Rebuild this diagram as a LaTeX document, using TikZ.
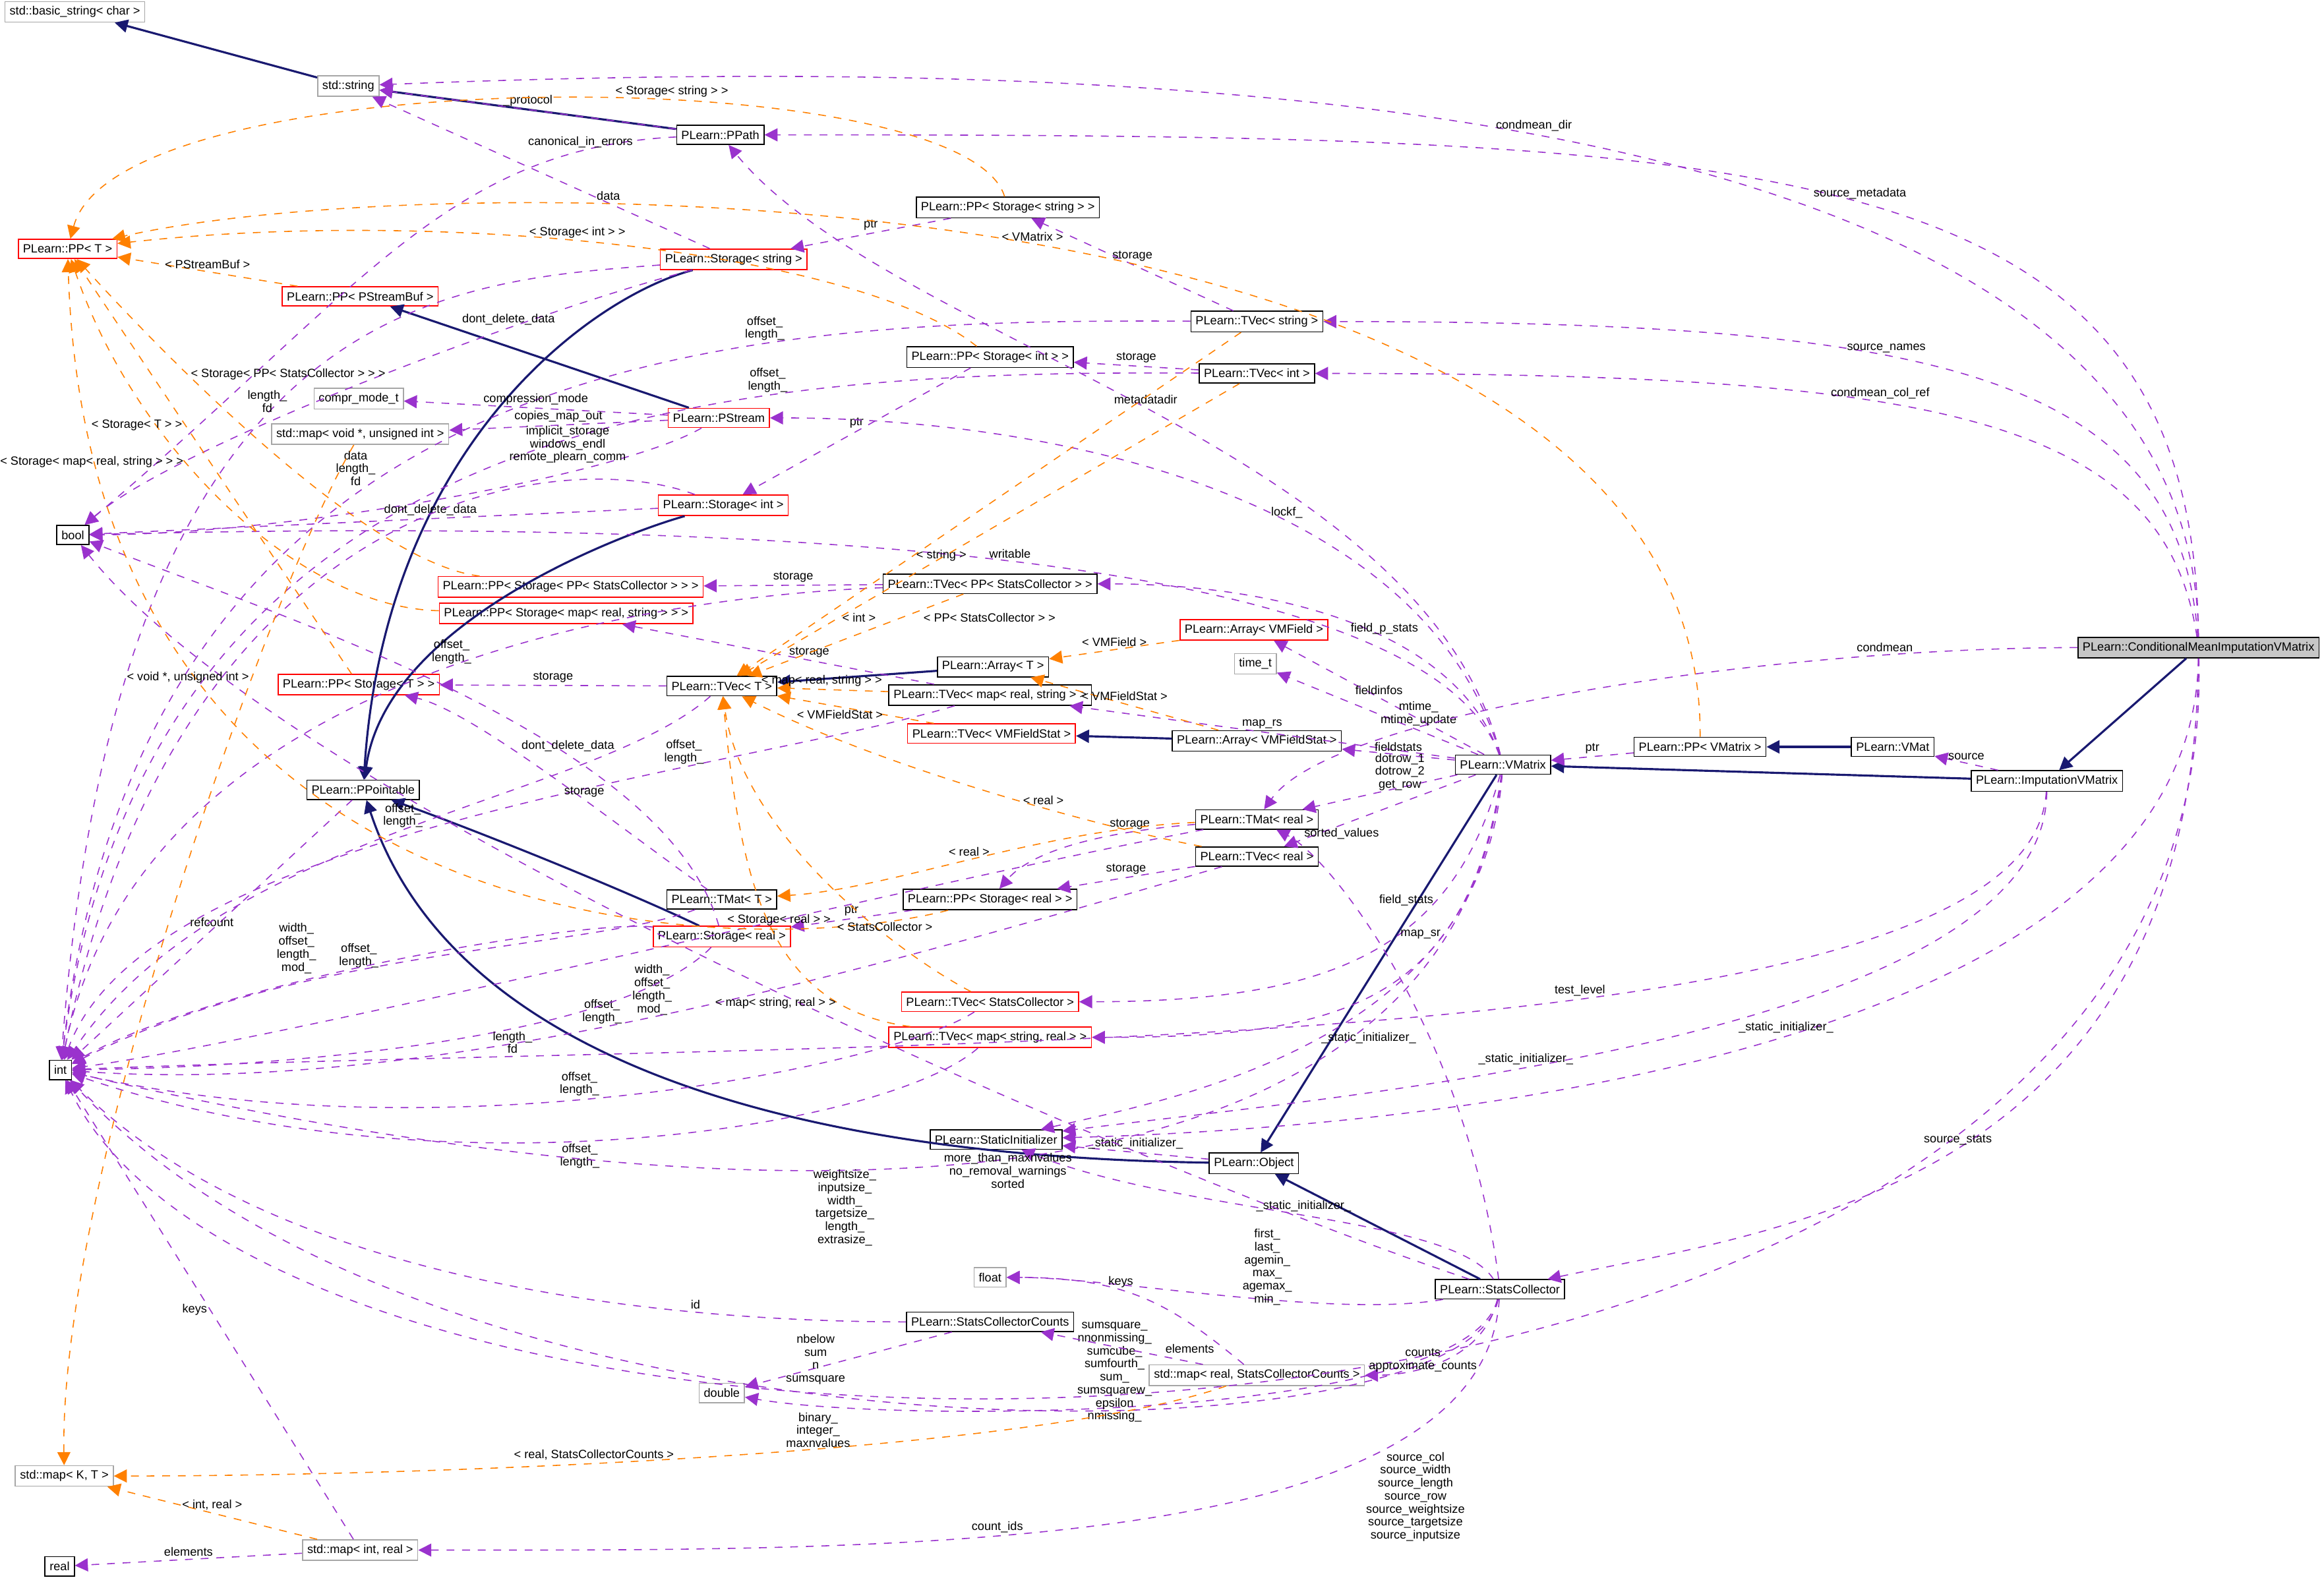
\documentclass[tikz,border=0pt]{standalone}
\usepackage{fontspec}
\setmainfont{Liberation Sans}
\usetikzlibrary{arrows.meta}
\tikzset{
  every node/.style={font=\fontsize{4.6}{5}\selectfont},
  cls/.style={draw=black, fill=white, inner sep=1.8pt, minimum height=0.26cm},
  redcls/.style={cls, draw=red},
  extcls/.style={cls, draw=gray!70},
  rootcls/.style={cls, fill=gray!45},
  inh/.style={draw={rgb,255:red,25;green,25;blue,112}, thick, -{Triangle[length=5pt,width=5pt]}},
  use/.style={draw={rgb,255:red,154;green,50;blue,205}, dashed, -{Triangle[length=5pt,width=5pt]}},
  tpl/.style={draw=orange, dashed, -{Triangle[length=5pt,width=5pt]}},
  lbl/.style={fill=none, inner sep=1pt, align=center}
}
\begin{document}
\begin{tikzpicture}[x=0.02cm, y=-0.02cm]
\useasboundingbox (0,0) rectangle (1568,1070);

% classes
\node[extcls, anchor=west] (basicstring) at (3,8) {std::basic\_string< char >};
\node[extcls] (stdstring) at (235,58) {std::string};
\node[cls] (ppath) at (486,91) {PLearn::PPath};
\node[redcls, anchor=west] (ppt) at (12,168) {PLearn::PP< T >};
\node[redcls] (ppstreambuf) at (243,200) {PLearn::PP< PStreamBuf >};
\node[redcls] (storagestring) at (495,175) {PLearn::Storage< string >};
\node[cls] (ppstoragestring) at (680,140) {PLearn::PP< Storage< string > >};
\node[cls] (tvecstring) at (848,217) {PLearn::TVec< string >};
\node[cls] (tvecint) at (848,252) {PLearn::TVec< int >};
\node[cls] (ppstorageint) at (668,241) {PLearn::PP< Storage< int > >};
\node[extcls] (comprmode) at (242,269) {compr\_mode\_t};
\node[redcls] (pstream) at (485,282) {PLearn::PStream};
\node[extcls] (mapvoid) at (243,293) {std::map< void *, unsigned int >};
\node[redcls] (storageint) at (488,341) {PLearn::Storage< int >};
\node[cls, anchor=west] (bool) at (38,361) {bool};
\node[redcls] (ppstorageppstats) at (385,396) {PLearn::PP< Storage< PP< StatsCollector > > >};
\node[redcls] (ppstoragemap) at (382,414) {PLearn::PP< Storage< map< real, string > > >};
\node[cls] (tvecppstats) at (668,394) {PLearn::TVec< PP< StatsCollector > >};
\node[redcls] (arrayvmfield) at (846,425) {PLearn::Array< VMField >};
\node[extcls] (timet) at (847,448) {time\_t};
\node[cls] (arrayt) at (670,450) {PLearn::Array< T >};
\node[cls] (tvect) at (487,463) {PLearn::TVec< T >};
\node[redcls] (ppstoraget) at (242,462) {PLearn::PP< Storage< T > >};
\node[cls] (tvecmap) at (668,469) {PLearn::TVec< map< real, string > >};
\node[redcls] (tvecvmfieldstat) at (669,495) {PLearn::TVec< VMFieldStat >};
\node[cls] (arrayvmfieldstat) at (848,500) {PLearn::Array< VMFieldStat >};
\node[cls] (vmatrix) at (1014,516) {PLearn::VMatrix};
\node[cls] (ppvmatrix) at (1147,504) {PLearn::PP< VMatrix >};
\node[cls] (vmat) at (1277,504) {PLearn::VMat};
\node[rootcls, anchor=east] (condmean) at (1565,437) {PLearn::ConditionalMeanImputationVMatrix};
\node[cls] (imputation) at (1381,527) {PLearn::ImputationVMatrix};
\node[cls] (ppointable) at (245,533) {PLearn::PPointable};
\node[cls] (tmatreal) at (848,553) {PLearn::TMat< real >};
\node[cls] (tvecreal) at (848,578) {PLearn::TVec< real >};
\node[cls] (tmatt) at (487,607) {PLearn::TMat< T >};
\node[cls] (ppstoragereal) at (668,607) {PLearn::PP< Storage< real > >};
\node[redcls] (storagereal) at (487,632) {PLearn::Storage< real >};
\node[redcls] (tvecstats) at (668,676) {PLearn::TVec< StatsCollector >};
\node[redcls] (tvecmapstr) at (668,700) {PLearn::TVec< map< string, real > >};
\node[cls, anchor=west] (int) at (33,722) {int};
\node[cls] (staticinit) at (672,769) {PLearn::StaticInitializer};
\node[cls] (object) at (846,785) {PLearn::Object};
\node[extcls] (float) at (668,862) {float};
\node[cls] (statscollector) at (1012,870) {PLearn::StatsCollector};
\node[cls] (sccounts) at (668,892) {PLearn::StatsCollectorCounts};
\node[extcls] (double) at (487,940) {double};
\node[extcls] (maprealscc) at (848,928) {std::map< real, StatsCollectorCounts >};
\node[extcls, anchor=west] (mapkt) at (10,996) {std::map< K, T >};
\node[extcls] (mapintreal) at (243,1046) {std::map< int, real >};
\node[cls, anchor=west] (real) at (30,1057) {real};

% inheritance
\draw[inh] (stdstring) -- (basicstring);
\draw[inh] (ppath) -- (stdstring);
\draw[inh] (pstream) -- (ppstreambuf);
\draw[inh] (storagestring) .. controls (400,200) and (260,300) .. (ppointable);
\draw[inh] (storageint) .. controls (420,360) and (260,420) .. (ppointable);
\draw[inh] (storagereal) .. controls (420,600) and (320,560) .. (ppointable);
\draw[inh] (object) .. controls (500,780) and (300,700) .. (ppointable);
\draw[inh] (arrayt) -- (tvect);
\draw[inh] (arrayvmfieldstat) -- (tvecvmfieldstat);
\draw[inh] (imputation) -- (vmatrix);
\draw[inh] (vmat) -- (ppvmatrix);
\draw[inh] (condmean) -- (imputation);
\draw[inh] (vmatrix) -- (object);
\draw[inh] (statscollector) -- (object);

% members
\draw[use] (ppath) -- node[lbl,above] {\_protocol} (stdstring);
\draw[use] (storagestring) -- node[lbl,pos=0.3,above] {data} (stdstring);
\draw[use] (ppath) .. controls (300,100) and (240,200) .. node[lbl,pos=0.15,above] {canonical\_in\_errors} (bool);
\draw[use] (condmean) .. controls (1480,100) and (1200,91) .. node[lbl,pos=0.5,above] {source\_metadata} (ppath);
\draw[use] (condmean) .. controls (1480,40) and (700,40) .. node[lbl,pos=0.5,above] {condmean\_dir} (stdstring);
\draw[use] (vmatrix) .. controls (960,300) and (600,230) .. node[lbl,pos=0.5,above] {metadatadir} (ppath);
\draw[use] (ppstoragestring) -- node[lbl,above] {ptr} (storagestring);
\draw[use] (tvecstring) -- node[lbl,above] {storage} (ppstoragestring);
\draw[use] (tvecint) -- node[lbl,above] {storage} (ppstorageint);
\draw[use] (ppstorageint) -- node[lbl,above] {ptr} (storageint);
\draw[use] (condmean) .. controls (1470,250) and (1300,217) .. node[lbl,pos=0.6,above] {source\_names} (tvecstring);
\draw[use] (condmean) .. controls (1460,280) and (1300,252) .. node[lbl,pos=0.6,above] {condmean\_col\_ref} (tvecint);
\draw[use] (tvecstring) .. controls (500,215) and (100,230) .. node[lbl,pos=0.3,above] {offset\_\\length\_} (int);
\draw[use] (tvecint) .. controls (500,250) and (100,270) .. node[lbl,pos=0.3,above] {offset\_\\length\_} (int);
\draw[use] (storagestring) .. controls (300,190) and (80,200) .. node[lbl,pos=0.55,above] {length\_\\fd} (int);
\draw[use] (storagestring) .. controls (360,210) and (120,300) .. node[lbl,pos=0.3,above] {dont\_delete\_data} (bool);
\draw[use] (pstream) -- node[lbl,above] {compression\_mode} (comprmode);
\draw[use] (pstream) -- node[lbl,above] {copies\_map\_out} (mapvoid);
\draw[use] (pstream) .. controls (420,320) and (200,360) .. (bool);
\node[lbl] (lpstream) at (383,300) {implicit\_storage\\windows\_endl\\remote\_plearn\_comm};
\draw[use] (storageint) -- node[lbl,pos=0.4,above] {dont\_delete\_data} (bool);
\draw[use] (storageint) .. controls (380,300) and (120,330) .. (int);
\node[lbl] (lstorageint) at (240,316) {data\\length\_\\fd};
\draw[use] (vmatrix) .. controls (960,330) and (700,282) .. node[lbl,pos=0.4,above] {lockf\_} (pstream);
\draw[use] (vmatrix) .. controls (960,370) and (500,350) .. node[lbl,pos=0.5,above] {writable} (bool);
\draw[use] (vmatrix) .. controls (980,420) and (850,394) .. node[lbl,pos=0.4,above] {field\_p\_stats} (tvecppstats);
\draw[use] (tvecppstats) -- node[lbl,above] {storage} (ppstorageppstats);
\draw[use] (tvecppstats) .. controls (500,400) and (100,430) .. node[lbl,pos=0.5,above] {offset\_\\length\_} (int);
\draw[use] (vmatrix) -- node[lbl,above] {fieldinfos} (arrayvmfield);
\draw[use] (vmatrix) -- node[lbl,right] {mtime\_\\mtime\_update} (timet);
\draw[use] (vmatrix) -- node[lbl,above] {map\_rs} (tvecmap);
\draw[use] (tvecmap) -- node[lbl,pos=0.4,above] {storage} (ppstoragemap);
\draw[use] (tvecmap) .. controls (500,520) and (100,560) .. node[lbl,pos=0.3,above] {offset\_\\length\_} (int);
\draw[use] (vmatrix) -- node[lbl,above] {fieldstats} (arrayvmfieldstat);
\draw[use] (ppvmatrix) -- node[lbl,above] {ptr} (vmatrix);
\draw[use] (imputation) -- node[lbl,above] {source} (vmat);
\draw[use] (vmatrix) -- node[lbl,pos=0.55,above right] {dotrow\_1\\dotrow\_2\\get\_row} (tmatreal);
\draw[use] (vmatrix) -- node[lbl,pos=0.7,below] {sorted\_values} (tvecreal);
\draw[use] (tvecreal) -- node[lbl,above] {storage} (ppstoragereal);
\draw[use] (tmatreal) .. controls (760,560) and (700,570) .. node[lbl,pos=0.3,above] {storage} (ppstoragereal);
\draw[use] (ppstoragereal) -- node[lbl,above] {ptr} (storagereal);
\draw[use] (tmatreal) .. controls (600,600) and (200,700) .. (int);
\node[lbl] (ltmatreal) at (440,668) {width\_\\offset\_\\length\_\\mod\_};
\draw[use] (tvecreal) .. controls (600,650) and (300,740) .. node[lbl,pos=0.55,above] {offset\_\\length\_} (int);
\draw[use] (vmatrix) .. controls (980,640) and (900,676) .. node[lbl,pos=0.3,left] {field\_stats} (tvecstats);
\draw[use] (vmatrix) .. controls (990,680) and (900,700) .. node[lbl,pos=0.3,left] {map\_sr} (tvecmapstr);
\draw[use] (tvecstats) .. controls (600,720) and (300,780) .. node[lbl,pos=0.55,above] {offset\_\\length\_} (int);
\draw[use] (tvecmapstr) .. controls (600,760) and (300,810) .. node[lbl,pos=0.55,below] {offset\_\\length\_} (int);
\draw[use] (vmatrix) .. controls (1000,700) and (800,740) .. node[lbl,pos=0.5,right] {\_static\_initializer\_} (staticinit);
\draw[use] (object) -- node[lbl,above] {\_static\_initializer\_} (staticinit);
\draw[use] (statscollector) .. controls (980,820) and (800,820) .. node[lbl,pos=0.5,above] {\_static\_initializer\_} (staticinit);
\draw[use] (condmean) .. controls (1480,700) and (1000,760) .. node[lbl,pos=0.5,above] {\_static\_initializer\_} (staticinit);
\draw[use] (imputation) .. controls (1380,700) and (900,740) .. node[lbl,pos=0.6,above] {\_static\_initializer\_} (staticinit);
\draw[use] (imputation) .. controls (1370,720) and (600,700) .. node[lbl,pos=0.4,above] {test\_level} (int);
\draw[use] (vmatrix) .. controls (980,800) and (600,850) .. (int);
\node[lbl] (lvmatrix) at (570,815) {weightsize\_\\inputsize\_\\width\_\\targetsize\_\\length\_\\extrasize\_};
\draw[use] (condmean) .. controls (1500,1050) and (200,1050) .. (int);
\node[lbl] (lcondmean) at (955,1010) {source\_col\\source\_width\\source\_length\\source\_row\\source\_weightsize\\source\_targetsize\\source\_inputsize};
\draw[use] (condmean) .. controls (1200,437) and (900,480) .. node[lbl,pos=0.2,above] {condmean} (tmatreal);
\draw[use] (condmean) .. controls (1480,800) and (1200,830) .. node[lbl,pos=0.5,above] {source\_stats} (statscollector);
\draw[use] (statscollector) .. controls (800,800) and (200,550) .. (bool);
\node[lbl] (lbool) at (680,790) {more\_than\_maxnvalues\\no\_removal\_warnings\\sorted};
\draw[use] (statscollector) .. controls (900,890) and (750,862) .. (float);
\node[lbl] (lfloat) at (855,855) {first\_\\last\_\\agemin\_\\max\_\\agemax\_\\min\_};
\draw[use] (statscollector) .. controls (990,960) and (600,960) .. (double);
\node[lbl] (ldouble) at (752,926) {sumsquare\_\\nnonmissing\_\\sumcube\_\\sumfourth\_\\sum\_\\sumsquarew\_\\epsilon\\nmissing\_};
\draw[use] (statscollector) .. controls (990,990) and (300,1000) .. (int);
\node[lbl] (lint) at (552,965) {binary\_\\integer\_\\maxnvalues};
\draw[use] (statscollector) .. controls (1000,920) and (950,928) .. (maprealscc);
\node[lbl] (lmaprealscc) at (960,918) {counts\\approximate\_counts};
\draw[use] (statscollector) .. controls (1000,1050) and (600,1046) .. node[lbl,pos=0.6,above] {count\_ids} (mapintreal);
\draw[use] (statscollector) .. controls (990,700) and (900,580) .. (tmatreal);
\draw[use] (maprealscc) -- node[lbl,pos=0.25,above right] {elements} (sccounts);
\draw[use] (maprealscc) .. controls (790,880) and (760,862) .. node[lbl,pos=0.6,above] {keys} (float);
\draw[use] (sccounts) .. controls (500,892) and (200,880) .. node[lbl,pos=0.3,above] {id} (int);
\draw[use] (sccounts) -- node[lbl,left] {nbelow\\sum\\n\\sumsquare} (double);
\draw[use] (mapintreal) -- node[lbl,left] {keys} (int);
\draw[use] (mapintreal) -- node[lbl,above] {elements} (real);
\draw[use] (ppointable) -- node[lbl,above] {refcount} (int);
\draw[use] (tvect) -- node[lbl,above] {storage} (ppstoraget);
\draw[use] (tvect) .. controls (400,540) and (150,560) .. node[lbl,pos=0.5,above] {offset\_\\length\_} (int);
\draw[use] (tmatt) .. controls (420,560) and (320,480) .. node[lbl,pos=0.4,above] {storage} (ppstoraget);
\draw[use] (tmatt) .. controls (400,640) and (200,640) .. node[lbl,pos=0.6,above] {offset\_\\length\_} (int);
\draw[use] (storagereal) .. controls (450,500) and (200,420) .. node[lbl,pos=0.35,above] {dont\_delete\_data} (bool);
\draw[use] (storagereal) .. controls (420,700) and (200,720) .. node[lbl,pos=0.4,below] {length\_\\fd} (int);
\draw[use] (storagereal) .. controls (400,620) and (150,660) .. (int);
\node[lbl] (lstoragereal) at (200,640) {width\_\\offset\_\\length\_\\mod\_};

% templates
\draw[tpl] (ppstoragestring) .. controls (650,40) and (80,40) .. node[lbl,pos=0.4,above] {< Storage< string > >} (ppt);
\draw[tpl] (ppstreambuf) -- node[lbl,above] {< PStreamBuf >} (ppt);
\draw[tpl] (ppstorageint) .. controls (580,170) and (300,140) .. node[lbl,pos=0.55,above] {< Storage< int > >} (ppt);
\draw[tpl] (ppstorageppstats) .. controls (250,380) and (120,250) .. node[lbl,pos=0.7,right] {< Storage< PP< StatsCollector > > >} (ppt);
\draw[tpl] (ppstoragemap) .. controls (200,410) and (90,300) .. node[lbl,pos=0.6,left] {< Storage< map< real, string > > >} (ppt);
\draw[tpl] (ppstoraget) -- node[lbl,pos=0.6,left] {< Storage< T > >} (ppt);
\draw[tpl] (ppstoragereal) .. controls (500,650) and (60,640) .. node[lbl,pos=0.2,above] {< Storage< real > >} (ppt);
\draw[tpl] (ppvmatrix) .. controls (1150,110) and (300,110) .. node[lbl,pos=0.5,above] {< VMatrix >} (ppt);
\draw[tpl] (tvecstring) -- node[lbl,pos=0.65,right] {< string >} (tvect);
\draw[tpl] (tvecint) -- node[lbl,pos=0.8,right] {< int >} (tvect);
\draw[tpl] (tvecppstats) -- node[lbl,pos=0.2,below right] {< PP< StatsCollector > >} (tvect);
\draw[tpl] (tvecmap) -- node[lbl,pos=0.6,above] {< map< real, string > >} (tvect);
\draw[tpl] (tvecvmfieldstat) -- node[lbl,pos=0.6,below] {< VMFieldStat >} (tvect);
\draw[tpl] (tvecreal) .. controls (750,560) and (600,520) .. node[lbl,pos=0.4,above] {< real >} (tvect);
\draw[tpl] (tvecstats) .. controls (600,640) and (500,560) .. node[lbl,pos=0.3,above] {< StatsCollector >} (tvect);
\draw[tpl] (tvecmapstr) .. controls (520,680) and (500,600) .. node[lbl,pos=0.2,left] {< map< string, real > >} (tvect);
\draw[tpl] (arrayvmfield) -- node[lbl,above] {< VMField >} (arrayt);
\draw[tpl] (arrayvmfieldstat) -- node[lbl,above] {< VMFieldStat >} (arrayt);
\draw[tpl] (tmatreal) .. controls (700,560) and (600,600) .. node[lbl,pos=0.5,above] {< real >} (tmatt);
\draw[tpl] (mapvoid) .. controls (180,400) and (40,800) .. node[lbl,pos=0.3,left] {< void *, unsigned int >} (mapkt);
\draw[tpl] (mapintreal) -- node[lbl,above] {< int, real >} (mapkt);
\draw[tpl] (maprealscc) .. controls (700,980) and (300,996) .. node[lbl,pos=0.6,above] {< real, StatsCollectorCounts >} (mapkt);
\end{tikzpicture}
\end{document}
